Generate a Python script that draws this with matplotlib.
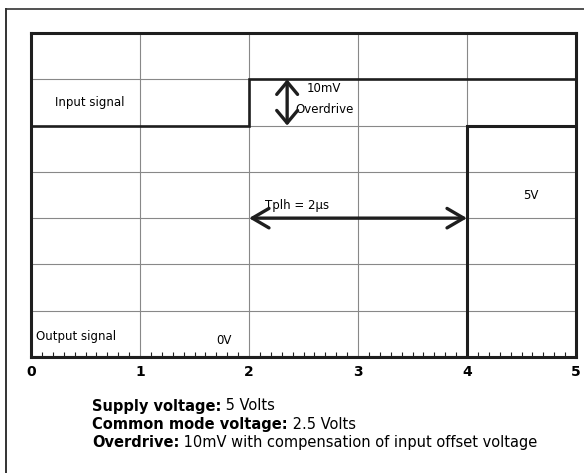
import matplotlib.pyplot as plt
from matplotlib.lines import Line2D
from matplotlib.ticker import MultipleLocator

plt.rcParams['font.family'] = ['DejaVu Sans']

# time axis (us) and grid rows
x_ticks = [0, 1, 2, 3, 4, 5]
n_rows = 7

# waveforms (time, level in grid divisions)
input_t = [0, 2, 2, 5]
input_v = [5, 5, 6, 6]
output_t = [0, 4, 4, 5]
output_v = [0, 0, 5, 5]

# propagation delay and overdrive markers
tplh_start, tplh_end, tplh_level = 2.0, 4.0, 3.0
od_x, od_low, od_high = 2.35, 5.0, 6.0

notes = [
    ("Supply voltage:", "5 Volts"),
    ("Common mode voltage:", "2.5 Volts"),
    ("Overdrive:", "10mV with compensation of input offset voltage"),
]

fig = plt.figure(figsize=(5.84, 4.73), dpi=100)
ax = fig.add_axes([31 / 584, 1 - 357 / 473, 545 / 584, 324 / 473])

ax.set_xlim(0, 5)
ax.set_ylim(0, n_rows)

# grid
for x in x_ticks[1:-1]:
    ax.axvline(x, color='#888888', lw=0.8, zorder=1)
for y in range(1, n_rows):
    ax.axhline(y, color='#888888', lw=0.8, zorder=1)

sig = '#1e1e1e'
ax.plot(input_t, input_v, color=sig, lw=1.9, solid_joinstyle='miter', zorder=3)
ax.plot(output_t, output_v, color=sig, lw=2.2, solid_joinstyle='miter', zorder=3)

# arrows
ax.annotate('', xy=(tplh_start, tplh_level), xytext=(tplh_end, tplh_level),
            arrowprops=dict(arrowstyle='<->,head_length=1.2,head_width=0.7',
                            color=sig, lw=2.4, shrinkA=0, shrinkB=0), zorder=4)
ax.annotate('', xy=(od_x, od_high), xytext=(od_x, od_low),
            arrowprops=dict(arrowstyle='<->,head_length=0.9,head_width=0.75',
                            color=sig, lw=2.4, shrinkA=0, shrinkB=0), zorder=4)

fs = 8.5
ax.text(0.54, 5.5, 'Input signal', ha='center', va='center', fontsize=fs)
ax.text(0.41, 0.45, 'Output signal', ha='center', va='center', fontsize=fs)
ax.text(2.69, 5.8, '10mV', ha='center', va='center', fontsize=fs)
ax.text(2.69, 5.34, 'Overdrive', ha='center', va='center', fontsize=fs)
ax.text(2.44, 3.27, 'Tplh = 2µs', ha='center', va='center', fontsize=fs)
ax.text(4.59, 3.48, '5V', ha='center', va='center', fontsize=fs)
ax.text(1.77, 0.36, '0V', ha='center', va='center', fontsize=fs)

# spines and ticks
for s in ax.spines.values():
    s.set_linewidth(2.2)
    s.set_color(sig)
ax.set_xticks(x_ticks)
ax.set_xticklabels([str(t) for t in x_ticks], fontweight='bold', fontsize=10)
ax.xaxis.set_minor_locator(MultipleLocator(0.1))
ax.tick_params(axis='x', which='major', length=0, pad=6)
ax.tick_params(axis='x', which='minor', direction='in', length=3.5, width=0.8, color=sig)
ax.set_yticks([])

# outer frame (cropped at right and bottom)
fig.add_artist(Line2D([6 / 584, 6 / 584], [1 - 9 / 473, -0.1], color='#333333', lw=1.4))
fig.add_artist(Line2D([6 / 584, 1.1], [1 - 9 / 473, 1 - 9 / 473], color='#333333', lw=1.2))

# notes below the chart
for i, (head, body) in enumerate(notes):
    y = 1 - (406 + 18 * i) / 473
    t = fig.text(92 / 584, y, head, fontsize=10.5, fontweight='bold', va='center')
    ax.annotate(' ' + body, xy=(1, 0.5), xycoords=t, va='center', ha='left',
                fontsize=10.5, annotation_clip=False)

fig.savefig('out.png', dpi=100)
